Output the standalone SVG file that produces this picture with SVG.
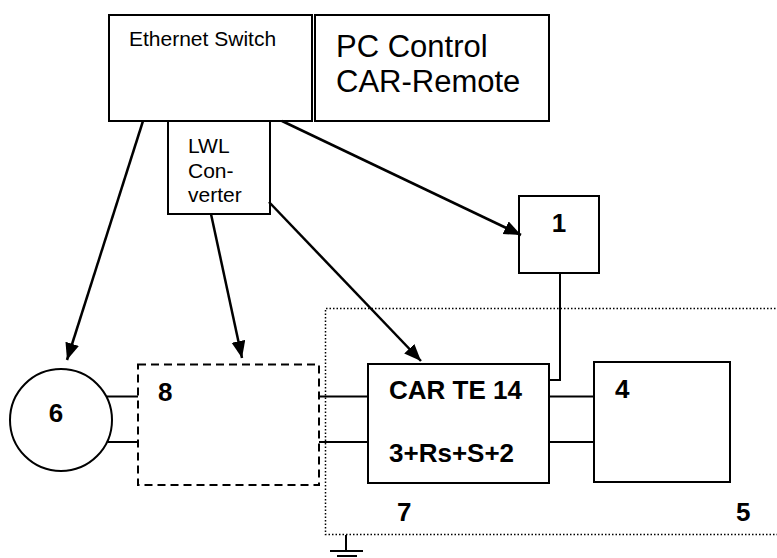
<svg xmlns="http://www.w3.org/2000/svg" width="777" height="558" viewBox="0 0 777 558">
<style>
.box{fill:#fff;stroke:#000;stroke-width:2}
.t{font-family:"Liberation Sans",Arial,sans-serif;fill:#000}
.b{font-family:"Liberation Sans",Arial,sans-serif;font-weight:bold;font-size:26px;fill:#000}
.ln{fill:none;stroke:#000;stroke-width:2}
.arr{fill:none;stroke:#000;stroke-width:2.5;marker-end:url(#ah)}
</style>
<defs>
<marker id="ah" markerUnits="userSpaceOnUse" markerWidth="20" markerHeight="16" refX="17" refY="7" orient="auto">
<path d="M0,0 L17,7 L0,14 z" fill="#000"/>
</marker>
</defs>
<rect width="777" height="558" fill="#fff"/>
<g id="boundary-5">
<path d="M779,308.5 H325.5 V534.5 H779" fill="none" stroke="#000" stroke-width="1.5" stroke-dasharray="1.5 2"/>
<text class="b" x="736" y="521">5</text>
<text class="b" x="397" y="521">7</text>
</g>
<g id="ground">
<path class="ln" d="M346,535 V551 M330,551 H363 M337,556 H357"/>
</g>
<g id="ethernet-switch">
<rect class="box" x="109" y="15" width="203" height="106"/>
<text class="t" x="129" y="46" font-size="21">Ethernet Switch</text>
</g>
<g id="pc-control">
<rect class="box" x="315" y="15" width="234" height="106"/>
<text class="t" x="336" y="57" font-size="31">PC Control</text>
<text class="t" x="336" y="92" font-size="31">CAR-Remote</text>
</g>
<g id="lwl-converter">
<rect class="box" x="168" y="121" width="102" height="93"/>
<text class="t" x="188" y="153" font-size="21">LWL</text>
<text class="t" x="188" y="178" font-size="21">Con-</text>
<text class="t" x="188" y="202" font-size="21">verter</text>
</g>
<g id="node-1">
<rect class="box" x="519" y="196" width="80" height="77"/>
<text class="b" x="559" y="232" text-anchor="middle">1</text>
</g>
<g id="car-te-14">
<rect class="box" x="368" y="364" width="181" height="119"/>
<text class="b" x="389" y="399">CAR TE 14</text>
<text class="b" x="389" y="462">3+Rs+S+2</text>
</g>
<g id="node-4">
<rect class="box" x="594" y="362" width="136" height="120"/>
<text class="b" x="615" y="398">4</text>
</g>
<g id="node-6">
<circle cx="61" cy="420" r="51" fill="#fff" stroke="#000" stroke-width="2"/>
<text class="b" x="56" y="422" text-anchor="middle">6</text>
</g>
<g id="node-8">
<rect x="138" y="364.5" width="181" height="120.5" fill="none" stroke="#000" stroke-width="2" stroke-dasharray="8 5"/>
<text class="b" x="158" y="401">8</text>
</g>
<g id="connectors">
<path class="arr" d="M143,121 L67,360"/>
<path class="arr" d="M211,214 L242,358"/>
<path class="arr" d="M282,121 L521,235"/>
<path class="arr" d="M269,202 L421,361"/>
<path class="ln" d="M560,273 V380 H549"/>
<path class="ln" d="M549,396.5 H594 M549,442 H594"/>
<path class="ln" d="M319,396.5 H368 M319,442 H368"/>
<path class="ln" d="M107,396.5 H138 M108,442 H138"/>
</g>
</svg>
